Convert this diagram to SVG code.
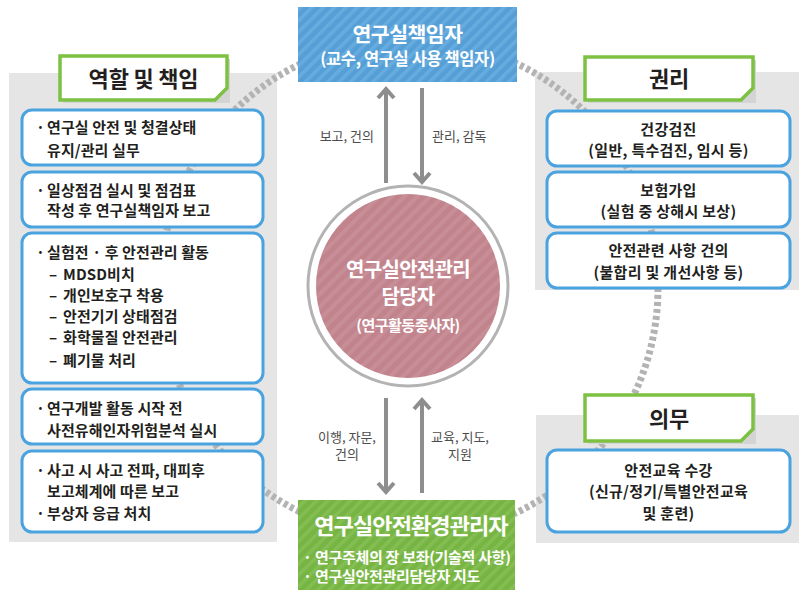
<svg xmlns="http://www.w3.org/2000/svg" width="799" height="590" viewBox="0 0 799 590">
<defs>
<pattern id="stBlue" patternUnits="userSpaceOnUse" width="8" height="8" patternTransform="rotate(45)"><rect width="8" height="8" fill="#559fd6"/><rect width="3.5" height="8" fill="#66acdf"/></pattern>
<pattern id="stGreen" patternUnits="userSpaceOnUse" width="8" height="8" patternTransform="rotate(45)"><rect width="8" height="8" fill="#76b443"/><rect width="3.5" height="8" fill="#84be52"/></pattern>
<pattern id="stPink" patternUnits="userSpaceOnUse" width="9" height="9" patternTransform="rotate(45)"><rect width="9" height="9" fill="#c1838c"/><rect width="4" height="9" fill="#c88e97"/></pattern>
</defs>
<style>
text{font-family:"Noto Sans CJK KR","Noto Sans",sans-serif;}
.panel{fill:#e5e5e6;}
.tbox{fill:#fff;stroke:#7cc142;stroke-width:3.5;}
.tshadow{fill:#d4d4d5;}
.title{font-size:22px;font-weight:700;fill:#231f20;text-anchor:middle;letter-spacing:-0.2px;}
.box{fill:#fff;stroke:#4aa3df;stroke-width:3;}
.bt{font-size:15px;font-weight:700;fill:#231f20;letter-spacing:0.1px;}
.ct{font-size:15px;font-weight:700;fill:#231f20;letter-spacing:0.3px;text-anchor:middle;}
.wt{fill:#fff;font-weight:700;text-anchor:middle;}
.lbl{font-size:13px;fill:#4d4d4d;letter-spacing:0px;}
.arr{stroke:#8e8e8e;stroke-width:4;fill:none;}
.ring{fill:none;stroke:#b3b3b3;stroke-width:7;stroke-dasharray:4 3;}
</style>
<rect width="799" height="590" fill="#fff"/>

<g id="panels">
<rect class="panel" x="9" y="73" width="268" height="469"/>
<rect class="panel" x="535" y="72" width="264" height="218"/>
<rect class="panel" x="536" y="415" width="263" height="128"/>
</g>

<g id="orbit">
<circle class="ring" cx="409" cy="288" r="249"/>
</g>

<g id="center">
<circle cx="408" cy="286" r="100" fill="#fff" stroke="#b3b3b3" stroke-width="3"/>
<circle cx="408" cy="286" r="92" fill="url(#stPink)"/>
<text class="wt" x="408" y="276.5" font-size="20" letter-spacing="-0.7">연구실안전관리</text>
<text class="wt" x="408" y="303.5" font-size="20" letter-spacing="-0.7">담당자</text>
<text class="wt" x="408" y="331" font-size="15" letter-spacing="-0.5">(연구활동종사자)</text>
</g>

<g id="top">
<rect x="298" y="7" width="219" height="75" fill="url(#stBlue)"/>
<text class="wt" x="407.5" y="42" font-size="20.5" letter-spacing="-0.5">연구실책임자</text>
<text class="wt" x="407.5" y="64.5" font-size="16.5" letter-spacing="-0.4">(교수, 연구실 사용 책임자)</text>
</g>

<g id="bottom">
<rect x="298" y="500" width="217" height="90" fill="url(#stGreen)"/>
<text class="wt" x="411" y="533.5" font-size="22" letter-spacing="-0.9">연구실안전환경관리자</text>
<text fill="#fff" font-weight="700" font-size="15" letter-spacing="-0.3"><tspan x="303" y="563">·</tspan><tspan x="315" y="563">연구주체의 장 보좌(기술적 사항)</tspan></text>
<text fill="#fff" font-weight="700" font-size="15" letter-spacing="-0.3"><tspan x="303" y="582">·</tspan><tspan x="315" y="582">연구실안전관리담당자 지도</tspan></text>
</g>

<g id="connectors">
<path class="arr" d="M386,183 V90 M378,98 L386,89 L394,98"/>
<path class="arr" d="M422,88 V181 M414,173 L422,182 L430,173"/>
<path class="arr" d="M386,398 V491 M378,483 L386,492 L394,483"/>
<path class="arr" d="M422,493 V401 M414,409 L422,400 L430,409"/>
<text class="lbl" x="374" y="141" text-anchor="end">보고, 건의</text>
<text class="lbl" x="432" y="141">관리, 감독</text>
<text class="lbl" x="347" y="441.5" text-anchor="middle">이행, 자문,</text>
<text class="lbl" x="347" y="459" text-anchor="middle">건의</text>
<text class="lbl" x="460" y="441.5" text-anchor="middle">교육, 지도,</text>
<text class="lbl" x="460" y="459" text-anchor="middle">지원</text>
</g>

<g id="roles-title">
<rect class="tshadow" x="63" y="59" width="167" height="44"/>
<path class="tbox" d="M60,56 H227 V88 L215,100 H60 Z"/>
<text class="title" x="143.5" y="87">역할 및 책임</text>
</g>
<g id="role1">
<rect class="box" x="22" y="110" width="241" height="55" rx="10"/>
<text class="bt"><tspan x="36" y="132.5">·</tspan><tspan x="47" y="132.5">연구실 안전 및 청결상태</tspan></text>
<text class="bt" x="47" y="156">유지/관리 실무</text>
</g>
<g id="role2">
<rect class="box" x="22" y="172" width="241" height="55" rx="10"/>
<text class="bt"><tspan x="36" y="196">·</tspan><tspan x="47" y="196">일상점검 실시 및 점검표</tspan></text>
<text class="bt" x="47" y="215.5">작성 후 연구실책임자 보고</text>
</g>
<g id="role3">
<rect class="box" x="22" y="233" width="241" height="150" rx="10"/>
<text class="bt"><tspan x="36" y="257.5">·</tspan><tspan x="47" y="257.5">실험전 · 후 안전관리 활동</tspan></text>
<text class="bt"><tspan x="49" y="279.5">–</tspan><tspan x="63" y="279.5">MDSD비치</tspan></text>
<text class="bt"><tspan x="49" y="301">–</tspan><tspan x="63" y="301">개인보호구 착용</tspan></text>
<text class="bt"><tspan x="49" y="321.5">–</tspan><tspan x="63" y="321.5">안전기기 상태점검</tspan></text>
<text class="bt"><tspan x="49" y="343">–</tspan><tspan x="63" y="343">화학물질 안전관리</tspan></text>
<text class="bt"><tspan x="49" y="365.5">–</tspan><tspan x="63" y="365.5">폐기물 처리</tspan></text>
</g>
<g id="role4">
<rect class="box" x="22" y="389" width="241" height="55" rx="10"/>
<text class="bt"><tspan x="36" y="413.5">·</tspan><tspan x="47" y="413.5">연구개발 활동 시작 전</tspan></text>
<text class="bt" x="47" y="435.5">사전유해인자위험분석 실시</text>
</g>
<g id="role5">
<rect class="box" x="22" y="451" width="241" height="81" rx="10"/>
<text class="bt"><tspan x="36" y="475.5">·</tspan><tspan x="47" y="475.5">사고 시 사고 전파, 대피후</tspan></text>
<text class="bt" x="47" y="496.5">보고체계에 따른 보고</text>
<text class="bt"><tspan x="36" y="518.5">·</tspan><tspan x="47" y="518.5">부상자 응급 처치</tspan></text>
</g>

<g id="rights-title">
<rect class="tshadow" x="588" y="60" width="168" height="43"/>
<path class="tbox" d="M585,57 H753 V88 L741,100 H585 Z"/>
<text class="title" x="669" y="86.5">권리</text>
</g>
<g id="right1">
<rect class="box" x="547" y="111" width="243" height="55" rx="10"/>
<text class="ct" x="668.5" y="134.5">건강검진</text>
<text class="ct" x="668.5" y="155.5">(일반, 특수검진, 임시 등)</text>
</g>
<g id="right2">
<rect class="box" x="547" y="172" width="243" height="55" rx="10"/>
<text class="ct" x="668.5" y="195.5">보험가입</text>
<text class="ct" x="668.5" y="216.5">(실험 중 상해시 보상)</text>
</g>
<g id="right3">
<rect class="box" x="547" y="233" width="243" height="55" rx="10"/>
<text class="ct" x="668.5" y="256">안전관련 사항 건의</text>
<text class="ct" x="668.5" y="277.5">(불합리 및 개선사항 등)</text>
</g>

<g id="duty-title">
<rect class="tshadow" x="588" y="398" width="168" height="46"/>
<path class="tbox" d="M585,395 H753 V429 L741,441 H585 Z"/>
<text class="title" x="669" y="427">의무</text>
</g>
<g id="duty1">
<rect class="box" x="547" y="450" width="243" height="82" rx="10"/>
<text class="ct" x="668.5" y="475.5">안전교육 수강</text>
<text class="ct" x="668.5" y="496.5">(신규/정기/특별안전교육</text>
<text class="ct" x="668.5" y="518.5">및 훈련)</text>
</g>
</svg>
